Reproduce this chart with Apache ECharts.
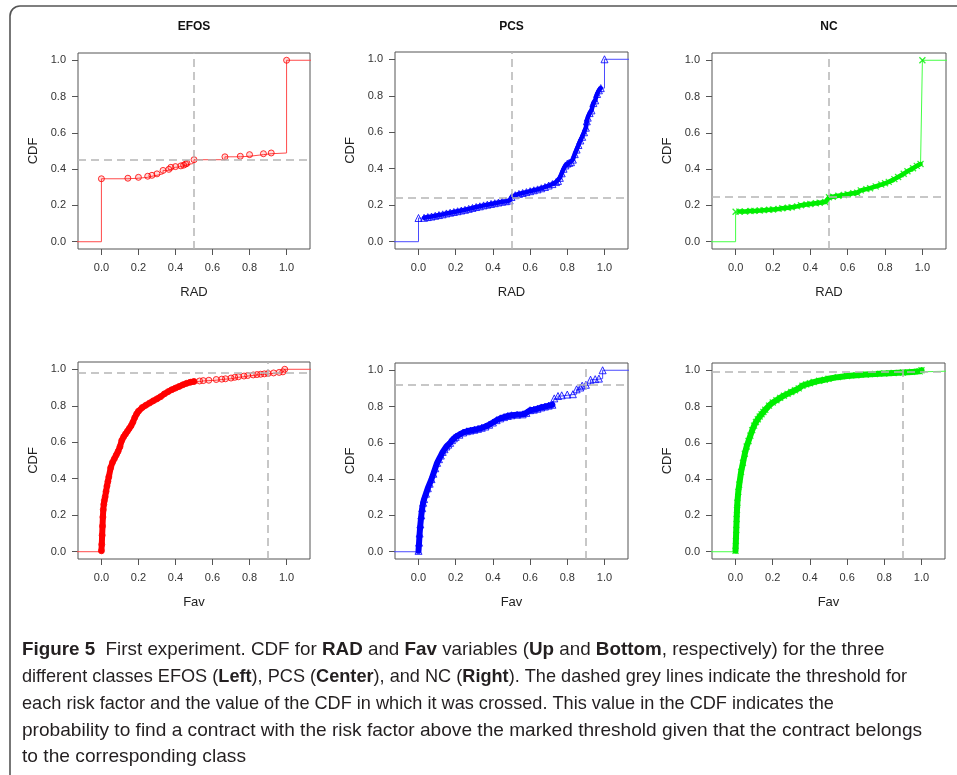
<!DOCTYPE html>
<html>
<head>
<meta charset="utf-8">
<script src="https://cdn.jsdelivr.net/npm/echarts@6/dist/echarts.min.js"></script>
<style>
  html, body { margin: 0; padding: 0; background: #ffffff; }
  #chart { width: 957px; height: 775px; }
</style>
</head>
<body>
<div id="chart"></div>
<script>
// ---------------- data ----------------
const classNames = ['EFOS', 'PCS', 'NC'];
const variableNames = ['RAD', 'Fav'];
const axisTicks = [0, 0.2, 0.4, 0.6, 0.8, 1.0];

// ECDF jump points (x value, CDF value)
const efosRadX = [0, 0.143, 0.2, 0.25, 0.273, 0.3, 0.333, 0.364, 0.375, 0.4, 0.429, 0.444, 0.455, 0.462, 0.5, 0.667, 0.75, 0.8, 0.875, 0.917, 1.0];
const efosRadY = [0.347, 0.350, 0.355, 0.361, 0.366, 0.374, 0.393, 0.399, 0.410, 0.414, 0.418, 0.422, 0.428, 0.432, 0.452, 0.468, 0.471, 0.480, 0.485, 0.489, 1.0];

const pcsRadX = [0, 0.03, 0.05, 0.07, 0.09, 0.11, 0.13, 0.15, 0.17, 0.19, 0.21, 0.23, 0.25, 0.27, 0.29, 0.31, 0.33, 0.35, 0.37, 0.39, 0.41, 0.43, 0.45, 0.47, 0.49,
  0.5, 0.52, 0.54, 0.56, 0.58, 0.60, 0.62, 0.64, 0.66, 0.68, 0.70, 0.72, 0.74, 0.75, 0.76, 0.77, 0.78, 0.79, 0.80, 0.81, 0.82, 0.83, 0.84, 0.85, 0.86, 0.87, 0.88, 0.89,
  0.90, 0.905, 0.91, 0.92, 0.93, 0.94, 0.95, 0.96, 0.97, 0.98, 1.0];
const pcsRadY = [0.130, 0.131, 0.135, 0.138, 0.142, 0.146, 0.150, 0.155, 0.159, 0.163, 0.167, 0.171, 0.175, 0.180, 0.185, 0.190, 0.194, 0.199, 0.203, 0.207, 0.211, 0.215, 0.219, 0.222, 0.226,
  0.245, 0.255, 0.262, 0.267, 0.272, 0.277, 0.282, 0.287, 0.293, 0.300, 0.308, 0.316, 0.327, 0.333, 0.350, 0.375, 0.400, 0.418, 0.428, 0.432, 0.436, 0.450, 0.480, 0.505, 0.530, 0.555, 0.575, 0.600,
  0.625, 0.660, 0.680, 0.705, 0.720, 0.760, 0.775, 0.810, 0.830, 0.842, 1.0];

const ncRadX = [0, 0.02, 0.05, 0.08, 0.1, 0.13, 0.15, 0.18, 0.2, 0.23, 0.25, 0.28, 0.3, 0.33, 0.35, 0.38, 0.4, 0.43, 0.45, 0.48,
  0.5, 0.52, 0.55, 0.58, 0.6, 0.63, 0.65, 0.67, 0.7, 0.72, 0.75, 0.78, 0.8, 0.82, 0.85, 0.87, 0.9, 0.92, 0.95, 0.97, 0.99, 1.0];
const ncRadY = [0.165, 0.166, 0.167, 0.169, 0.170, 0.172, 0.174, 0.176, 0.178, 0.181, 0.185, 0.187, 0.190, 0.195, 0.201, 0.205, 0.208, 0.212, 0.215, 0.219,
  0.245, 0.248, 0.253, 0.258, 0.262, 0.267, 0.270, 0.283, 0.290, 0.295, 0.305, 0.315, 0.322, 0.330, 0.345, 0.357, 0.375, 0.388, 0.405, 0.418, 0.428, 1.0];

const efosFavX = [0, 0.002, 0.004, 0.006, 0.008, 0.01, 0.013, 0.016, 0.02, 0.025, 0.03, 0.035, 0.04, 0.05, 0.06, 0.07, 0.08, 0.09, 0.1, 0.11, 0.12, 0.13, 0.14, 0.15, 0.16, 0.17, 0.18, 0.19, 0.2,
  0.22, 0.24, 0.26, 0.28, 0.3, 0.32, 0.34, 0.36, 0.38, 0.4, 0.42, 0.44, 0.46, 0.48, 0.5, 0.53, 0.55, 0.58, 0.62, 0.65, 0.67, 0.7, 0.72, 0.74, 0.77, 0.79, 0.82, 0.84, 0.86, 0.88, 0.9, 0.93, 0.96, 0.98, 0.99];
const efosFavY = [0.005, 0.04, 0.09, 0.14, 0.19, 0.23, 0.26, 0.28, 0.30, 0.33, 0.36, 0.385, 0.41, 0.46, 0.49, 0.51, 0.53, 0.55, 0.575, 0.61, 0.63, 0.645, 0.66, 0.675, 0.69, 0.71, 0.735, 0.755, 0.77,
  0.79, 0.803, 0.815, 0.827, 0.838, 0.85, 0.865, 0.877, 0.888, 0.897, 0.906, 0.915, 0.923, 0.929, 0.933, 0.936, 0.938, 0.940, 0.944, 0.946, 0.948, 0.952, 0.956, 0.959, 0.963, 0.966, 0.969, 0.971, 0.973, 0.975, 0.977, 0.980, 0.983, 0.986, 1.0];

const pcsFavX = [0, 0.003, 0.006, 0.01, 0.015, 0.02, 0.025, 0.03, 0.04, 0.05, 0.06, 0.07, 0.08, 0.09, 0.1, 0.11, 0.12, 0.13, 0.14, 0.15, 0.16, 0.17, 0.18, 0.19, 0.2,
  0.22, 0.24, 0.26, 0.28, 0.3, 0.32, 0.34, 0.36, 0.38, 0.4, 0.42, 0.44, 0.46, 0.48, 0.5, 0.53, 0.56, 0.58, 0.6, 0.62, 0.64, 0.66, 0.68, 0.7, 0.72,
  0.73, 0.75, 0.77, 0.8, 0.83, 0.85, 0.87, 0.88, 0.9, 0.925, 0.95, 0.97, 0.99];
const pcsFavY = [0.005, 0.05, 0.10, 0.15, 0.20, 0.24, 0.27, 0.29, 0.32, 0.35, 0.375, 0.40, 0.43, 0.46, 0.49, 0.51, 0.53, 0.55, 0.565, 0.58, 0.59, 0.60, 0.615, 0.625, 0.633,
  0.645, 0.657, 0.664, 0.668, 0.672, 0.677, 0.683, 0.690, 0.700, 0.712, 0.725, 0.735, 0.742, 0.748, 0.752, 0.755, 0.757, 0.765, 0.780, 0.783, 0.788, 0.795, 0.800, 0.805, 0.810,
  0.845, 0.858, 0.862, 0.866, 0.868, 0.895, 0.905, 0.915, 0.920, 0.948, 0.951, 0.954, 1.0];

const ncFavX = [0, 0.002, 0.004, 0.006, 0.008, 0.01, 0.015, 0.02, 0.03, 0.04, 0.05, 0.06, 0.07, 0.08, 0.09, 0.1, 0.11, 0.12, 0.13, 0.14, 0.15, 0.16, 0.18, 0.2,
  0.22, 0.24, 0.26, 0.28, 0.3, 0.32, 0.34, 0.36, 0.38, 0.4, 0.42, 0.45, 0.48, 0.5, 0.55, 0.6, 0.65, 0.7, 0.75, 0.8, 0.85, 0.9, 0.95, 0.99, 1.0];
const ncFavY = [0.005, 0.06, 0.12, 0.18, 0.23, 0.27, 0.33, 0.37, 0.44, 0.49, 0.54, 0.58, 0.61, 0.64, 0.67, 0.695, 0.715, 0.73, 0.745, 0.758, 0.77, 0.782, 0.805, 0.822,
  0.835, 0.848, 0.86, 0.87, 0.88, 0.89, 0.90, 0.915, 0.922, 0.928, 0.935, 0.942, 0.948, 0.953, 0.962, 0.968, 0.972, 0.976, 0.979, 0.982, 0.985, 0.988, 0.991, 0.994, 1.0];

// dashed threshold lines: risk-factor threshold and CDF value where crossed
const thresholdX = [0.5, 0.5, 0.5, 0.9, 0.9, 0.9];
const thresholdCdf = [0.452, 0.245, 0.247, 0.978, 0.92, 0.99];

// ranges where the markers are so dense that they merge into a band
const bandFrom = [null, 0.03, 0.02, 0, 0, 0];
const bandTo = [null, 0.98, 0.99, 0.5, 0.72, 1.0];

// ---------------- layout / style ----------------
const XMIN = -0.1264, XMAX = 1.1264, YMIN = -0.04, YMAX = 1.04;
const grids = [
  { left: 78, top: 53, width: 232, height: 196 },
  { left: 395, top: 52, width: 233, height: 197 },
  { left: 712, top: 53, width: 234, height: 196 },
  { left: 78, top: 362, width: 232, height: 197 },
  { left: 395, top: 363, width: 233, height: 196 },
  { left: 712, top: 363, width: 233, height: 196 }
];
const colors = ['#ff0000', '#0000ff', '#00ee00'];
const lineColors = ['#ff4a4a', '#4a4aff', '#44ff44'];
const markerFill = ['rgba(255,0,0,0.18)', 'rgba(0,0,255,0.08)', 'none'];
const markerSymbols = ['circle', 'triangle', 'path://M0,0L10,10M10,0L0,10'];
const FONT = 'Liberation Sans, Arial, Helvetica, sans-serif';

const panelX = [efosRadX, pcsRadX, ncRadX, efosFavX, pcsFavX, ncFavX];
const panelY = [efosRadY, pcsRadY, ncRadY, efosFavY, pcsFavY, ncFavY];

const option = {
  backgroundColor: '#ffffff',
  animation: false,
  title: [],
  grid: [],
  xAxis: [],
  yAxis: [],
  series: [],
  graphic: []
};

for (let i = 0; i < 6; i++) {
  const cls = i % 3;
  const row = Math.floor(i / 3);
  const g = grids[i];
  option.grid.push(Object.assign({ show: true, borderColor: '#555', borderWidth: 1, backgroundColor: 'transparent', containLabel: false }, g));
  if (row === 0) {
    option.title.push({
      text: classNames[cls],
      left: g.left + g.width / 2,
      top: 21,
      textAlign: 'center',
      padding: 0,
      textStyle: { fontSize: 12, fontWeight: 'bold', fontFamily: FONT, color: '#111' }
    });
  }
  const tickFmt = v => Number(v).toFixed(1);
  option.xAxis.push({
    type: 'value', gridIndex: i, min: XMIN, max: XMAX, position: 'bottom',
    name: variableNames[row], nameLocation: 'middle', nameGap: 37,
    nameTextStyle: { fontSize: 13, fontFamily: FONT, color: '#222' },
    axisLine: { show: false, onZero: false },
    axisTick: { show: true, length: 6, lineStyle: { color: '#555' }, customValues: axisTicks },
    axisLabel: { show: true, margin: 13, fontSize: 11, fontFamily: FONT, color: '#333', customValues: axisTicks, formatter: tickFmt },
    splitLine: { show: false }
  });
  option.yAxis.push({
    type: 'value', gridIndex: i, min: YMIN, max: YMAX, position: 'left',
    name: 'CDF', nameLocation: 'middle', nameGap: 38,
    nameTextStyle: { fontSize: 13, fontFamily: FONT, color: '#222' },
    axisLine: { show: false, onZero: false },
    axisTick: { show: true, length: 6, lineStyle: { color: '#555' }, customValues: axisTicks },
    axisLabel: { show: true, margin: 12, fontSize: 11, fontFamily: FONT, color: '#333', customValues: axisTicks, formatter: tickFmt },
    splitLine: { show: false }
  });

  const xs = panelX[i], ys = panelY[i];
  const pts = xs.map((x, k) => [x, ys[k]]);
  const stepData = [[XMIN - 0.2, 0]].concat(pts, [[XMAX + 0.2, 1]]);

  option.series.push({
    type: 'line', xAxisIndex: i, yAxisIndex: i, data: stepData, step: 'end',
    showSymbol: false, symbol: 'none', silent: true, z: 2,
    lineStyle: { color: lineColors[cls], width: 1 },
    markLine: {
      silent: true, symbol: 'none', animation: false,
      label: { show: false },
      lineStyle: { color: '#b5b5b5', type: [8, 5], width: 1.5 },
      data: [{ xAxis: thresholdX[i] }, { yAxis: thresholdCdf[i] }]
    }
  });

  if (bandFrom[i] !== null) {
    const band = pts.filter(p => p[0] >= bandFrom[i] && p[0] <= bandTo[i]);
    option.series.push({
      type: 'line', xAxisIndex: i, yAxisIndex: i, data: band,
      showSymbol: false, symbol: 'none', silent: true, z: 3,
      lineStyle: { color: colors[cls], width: row === 0 ? 4.5 : 6, cap: 'round', join: 'round' }
    });
  }

  option.series.push({
    type: 'scatter', xAxisIndex: i, yAxisIndex: i, data: pts,
    symbol: markerSymbols[cls], symbolSize: cls === 1 ? 7 : 6, silent: true, z: 4,
    itemStyle: { color: markerFill[cls], borderColor: colors[cls], borderWidth: cls === 2 ? 1.3 : 1 }
  });
}

// figure frame
option.graphic.push({
  type: 'rect', silent: true, z: 0,
  shape: { x: 10, y: 6, width: 1200, height: 1200, r: [10, 0, 0, 0] },
  style: { fill: 'none', stroke: '#555', lineWidth: 1.6 }
});

// caption
const captionLines = [
  '{b|Figure 5}  First experiment. CDF for {b|RAD} and {b|Fav} variables ({b|Up} and {b|Bottom}, respectively) for the three',
  'different classes EFOS ({b|Left}), PCS ({b|Center}), and NC ({b|Right}). The dashed grey lines indicate the threshold for',
  'each risk factor and the value of the CDF in which it was crossed. This value in the CDF indicates the',
  'probability to find a contract with the risk factor above the marked threshold given that the contract belongs',
  'to the corresponding class'
];
const capTops = [650, 677, 704, 731, 757];
const capScaleX = [0.99, 0.955, 0.955, 1.005, 1.01];
captionLines.forEach((t, k) => {
  option.graphic.push({
    type: 'text', silent: true, x: 22, y: capTops[k], scaleX: capScaleX[k], scaleY: 1,
    style: {
      text: t, fontSize: 19, fontFamily: FONT, fill: '#231f20', verticalAlign: 'middle', align: 'left',
      rich: { b: { fontSize: 19, fontFamily: FONT, fontWeight: 'bold', fill: '#231f20' } }
    }
  });
});

const chart = echarts.init(document.getElementById('chart'), null, { renderer: 'canvas', width: 957, height: 775 });
chart.setOption(option);
</script>
</body>
</html>
